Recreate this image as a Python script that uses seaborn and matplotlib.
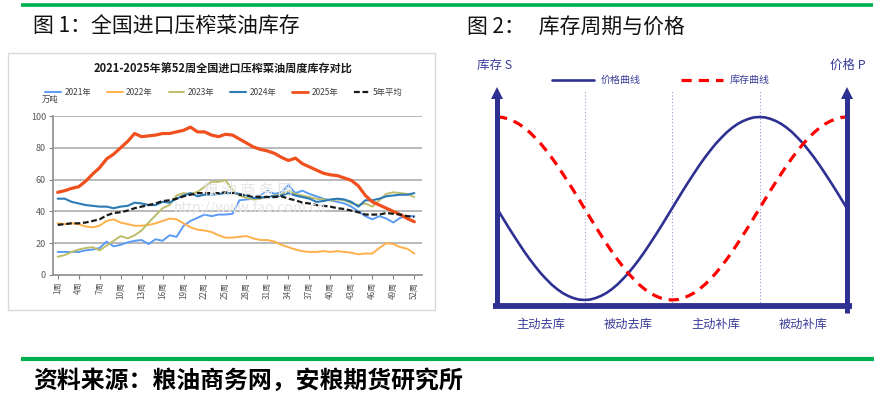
import numpy as np
import pandas as pd
import seaborn as sns
import matplotlib.pyplot as plt
from matplotlib.lines import Line2D
from matplotlib.patches import Rectangle

# ---------------- data ----------------
weeks = list(range(1, 53))
inv_2021 = [14.5, 14.5, 14.5, 14.5, 15.5, 16, 17, 21, 18, 19, 20.5, 21.5, 22, 19.5, 22.5, 21.5,
            25, 24, 31, 34, 36, 38, 37, 38, 38, 38.5, 47, 47.5, 48, 50, 53, 51, 52, 56.5, 51.5, 53,
            51, 49.5, 48, 47, 46, 45, 43, 40, 37, 35, 37, 35.5, 33, 36, 37, 37]
inv_2022 = [32.5, 32, 32.5, 32, 30.5, 30, 31, 34, 35, 33, 32, 31, 31, 31.5, 32.5, 34, 35.5, 35,
            32.5, 30, 28.5, 28, 27, 25, 23.5, 23.5, 24, 24.5, 23, 22, 22, 21, 19, 17.5, 16, 15,
            14.5, 14.5, 15, 14.5, 15, 14.5, 14, 13, 13.5, 13.5, 17, 20, 19.5, 17.5, 16.5, 13.5]
inv_2023 = [11.5, 12.5, 14.5, 16, 17, 17.5, 15.5, 18.5, 21.5, 24.5, 23, 25, 28, 33, 37.5, 42,
            44, 50, 51.5, 51, 52.3, 55.4, 58.6, 58.6, 59.6, 53.4, 50, 48.5, 47.5, 48, 49.5, 50,
            50.5, 53, 51, 50, 49, 48, 47.5, 47, 47.5, 47, 45, 44, 45, 43, 47, 51, 52, 51.5, 51, 49]
inv_2024 = [48, 48, 46, 45, 44, 43.5, 43, 43, 42, 43, 43.5, 45.5, 45, 44, 44, 46, 45.5, 48, 50,
            51.5, 49.5, 50.5, 50.5, 51, 51.5, 51.5, 51, 50, 48.5, 48.5, 49.5, 49.5, 50, 51.5, 50,
            49, 48, 46, 46.5, 47.5, 48, 47.5, 46, 43, 47, 47, 48, 49.5, 50, 50.5, 50.5, 51.5]
inv_2025 = [52, 53, 54.5, 55.5, 59, 63.5, 67.5, 73, 76, 80, 84, 89, 87, 87.5, 88, 89, 89, 90,
            91, 93, 90, 90, 88, 87, 88.5, 88, 85.5, 83, 80.5, 79, 78, 76.5, 74, 72, 73.5, 70,
            68, 66, 64, 63, 62.5, 61, 59.5, 56, 50, 46, 44, 42, 40, 38, 35.5, 33.5]
inv_avg5 = [31.5, 32, 32.5, 32.5, 33, 34, 35, 37.5, 39, 39.5, 40.5, 42, 43, 44, 45, 46.5, 47,
            48, 49.5, 50.5, 51.5, 51.5, 51.5, 51.5, 52, 51.5, 50.5, 50, 49.5, 49, 49, 49, 49.5,
            48, 47, 45.5, 45, 44, 43.5, 43, 42, 41.5, 40.5, 39.5, 38, 38, 38, 39, 38.5, 38, 37, 36.5]
series_names = ["2021年", "2022年", "2023年", "2024年", "2025年", "5年平均"]
xtick_weeks = list(range(1, 53, 3))
xtick_labels = [f"{w}周" for w in xtick_weeks]
ytick_vals = [0, 20, 40, 60, 80, 100]

# schematic (figure 2): values read along the width of the diagram
cycle_pos = [i / 64 for i in range(65)]
inventory_S = [100, 99.8, 99.0, 97.8, 96.2, 94.1, 91.6, 88.6, 85.4, 81.7, 77.8, 73.6, 69.1, 64.5,
               59.8, 54.9, 50, 45.1, 40.2, 35.5, 30.9, 26.4, 22.2, 18.3, 14.6, 11.4, 8.4, 5.9, 3.8,
               2.2, 1.0, 0.2, 0, 0.2, 1.0, 2.2, 3.8, 5.9, 8.4, 11.4, 14.6, 18.3, 22.2, 26.4, 30.9,
               35.5, 40.2, 45.1, 50, 54.9, 59.8, 64.5, 69.1, 73.6, 77.8, 81.7, 85.4, 88.6, 91.6,
               94.1, 96.2, 97.8, 99.0, 99.8, 100]
price_P = [50, 45.1, 40.2, 35.5, 30.9, 26.4, 22.2, 18.3, 14.6, 11.4, 8.4, 5.9, 3.8, 2.2, 1.0, 0.2,
           0, 0.2, 1.0, 2.2, 3.8, 5.9, 8.4, 11.4, 14.6, 18.3, 22.2, 26.4, 30.9, 35.5, 40.2, 45.1,
           50, 54.9, 59.8, 64.5, 69.1, 73.6, 77.8, 81.7, 85.4, 88.6, 91.6, 94.1, 96.2, 97.8, 99.0,
           99.8, 100, 99.8, 99.0, 97.8, 96.2, 94.1, 91.6, 88.6, 85.4, 81.7, 77.8, 73.6, 69.1, 64.5,
           59.8, 54.9, 50]
phase_labels = ["主动去库", "被动去库", "主动补库", "被动补库"]
phase_centers = [0.125, 0.375, 0.625, 0.875]
phase_bounds = [0.25, 0.5, 0.75]

# ---------------- style ----------------
sns.set_theme(style="white")
plt.rcParams["font.family"] = ["Noto Sans CJK SC", "DejaVu Sans"]

W, H = 894, 395
fig = plt.figure(figsize=(W / 100, H / 100), dpi=100)


def rect(x0, y0, x1, y1):
    return [x0 / W, 1 - y1 / H, (x1 - x0) / W, (y1 - y0) / H]


def ftext(x, y, s, **kw):
    return fig.text(x / W, 1 - y / H, s, **kw)


def fline(x0, x1, y0, y1, **kw):
    fig.add_artist(Line2D([x0 / W, x1 / W], [1 - y0 / H, 1 - y1 / H], transform=fig.transFigure, **kw))


GREEN = "#00B050"
fline(21, 873, 5, 5, color=GREEN, lw=2.6, solid_capstyle="butt")
fline(21, 874, 359, 359, color=GREEN, lw=3.0, solid_capstyle="butt")

ftext(33, 27, "图 1：全国进口压榨菜油库存", fontsize=15, fontweight="light", color="#111111",
      va="center", ha="left")
ftext(467, 27, "图 2：   库存周期与价格", fontsize=15, fontweight="light", color="#111111",
      va="center", ha="left")
ftext(33, 381, "资料来源：粮油商务网，安粮期货研究所", fontsize=17.2, fontweight="bold",
      color="#000000", va="center", ha="left")

# left panel frame
fig.patches.append(Rectangle((8 / W, 1 - 310 / H), (435 - 8) / W, (310 - 53) / H,
                             transform=fig.transFigure, fill=False, ec="#D9D9D9", lw=1.0))

# ---------------- figure 1 ----------------
colors = {"2021年": "#5B9BF5", "2022年": "#FFB04A", "2023年": "#BDBD6A",
          "2024年": "#2C7BB6", "2025年": "#F0501E", "5年平均": "#1A1A1A"}
widths = {"2021年": 1.4, "2022年": 1.4, "2023年": 1.4, "2024年": 1.5, "2025年": 2.3, "5年平均": 1.6}
dashes = {"2021年": "", "2022年": "", "2023年": "", "2024年": "", "2025年": "", "5年平均": (2.6, 1.2)}

df = pd.DataFrame({
    "week": weeks * 6,
    "value": inv_2021 + inv_2022 + inv_2023 + inv_2024 + inv_2025 + inv_avg5,
    "series": sum([[n] * 52 for n in series_names], []),
})

ax = fig.add_axes(rect(53, 116, 422, 275))
ax.set_facecolor("none")
sns.lineplot(data=df, x="week", y="value", hue="series", style="series", size="series",
             palette=colors, dashes=dashes, sizes=widths, hue_order=series_names,
             style_order=series_names, size_order=series_names, legend=False, ax=ax, zorder=3)
ax.set_xlim(0.33, 53.1)
ax.set_ylim(0, 100)
ax.set_yticks(ytick_vals)
ax.set_yticklabels([str(v) for v in ytick_vals], fontsize=6.5, color="#595959")
ax.set_xticks(xtick_weeks)
ax.set_xticklabels(xtick_labels, rotation=90, fontsize=5.8, color="#595959", va="top", ha="center")
ax.tick_params(axis="x", length=3, width=0.8, color="#808080", pad=2, direction="out", bottom=True)
ax.tick_params(axis="y", length=3, width=0.8, color="#808080", pad=2, left=True)
ax.set_xlabel("")
ax.set_ylabel("")
for v in ytick_vals[1:]:
    ax.axhline(v, color="#A6A6A6", lw=1.1, zorder=1)
for s in ["top", "right"]:
    ax.spines[s].set_visible(False)
for s in ["left", "bottom"]:
    ax.spines[s].set_color("#8C8C8C")
    ax.spines[s].set_linewidth(1.2)

ftext(223, 69, "2021-2025年第52周全国进口压榨菜油周度库存对比", fontsize=8, fontweight="bold",
      color="#1A1A1A", ha="center", va="center")
ftext(50, 99, "万吨", fontsize=6, color="#404040", ha="center", va="center")

# watermark
ftext(248, 190, "粮 油 商 务 网", fontsize=11, color="#E6E6E6", ha="center", va="center", zorder=0)
ftext(250, 208, "http://www.fao.com.cn", fontsize=10, color="#E6E6E6", ha="center", va="center", zorder=0)

handles = [Line2D([], [], color=colors[n], lw=widths[n] if n != "2025年" else 2.0,
                  linestyle=(0, dashes[n]) if dashes[n] else "-") for n in series_names]
fig.legend(handles, series_names, loc="center", bbox_to_anchor=(224 / W, 1 - 92 / H), ncol=6,
           frameon=False, fontsize=6, handlelength=1.9, handletextpad=0.4, columnspacing=1.9,
           labelcolor="#404040")

# ---------------- figure 2 ----------------
NAVY = "#2E3192"
TXT = "#3A3D9A"
ax2 = fig.add_axes(rect(497, 85, 847, 306))
ax2.set_facecolor("none")
ax2.set_xlim(0, 1)
ax2.set_ylim(-3.3, 117.5)
ax2.axis("off")

for b in phase_bounds:
    ax2.plot([b, b], [0, 0.977], transform=ax2.get_xaxis_transform(), color="#9A9ACD",
             lw=0.8, ls=(0, (1, 2)), zorder=1)

cdf = pd.DataFrame({"pos": cycle_pos, "S": inventory_S, "P": price_P})
sns.lineplot(data=cdf, x="pos", y="P", ax=ax2, color=NAVY, lw=1.9, zorder=3)
sns.lineplot(data=cdf, x="pos", y="S", ax=ax2, color="#FF0000", lw=2.3, zorder=3,
             linestyle=(0, (3.2, 2.2)))
ax2.set_xlabel("")
ax2.set_ylabel("")

ta = ax2.transAxes
ax2.plot([-0.011, 1.014], [0, 0], transform=ta, color=NAVY, lw=4.2, clip_on=False,
         solid_capstyle="butt", zorder=4)
ax2.plot([0, 0], [-0.01, 0.95], transform=ta, color=NAVY, lw=3.6, clip_on=False,
         solid_capstyle="butt", zorder=4)
ax2.plot([1, 1], [-0.032, 0.95], transform=ta, color=NAVY, lw=3.6, clip_on=False,
         solid_capstyle="butt", zorder=4)
for xx in (0, 1):
    ax2.plot([xx], [0.962], transform=ta, marker="^", ms=9, color=NAVY, clip_on=False,
             markeredgewidth=0, zorder=5)

ftext(495, 65, "库存 S", fontsize=9, color=TXT, ha="center", va="center")
ftext(848, 65, "价格 P", fontsize=9, color=TXT, ha="center", va="center")
for lab, c in zip(phase_labels, phase_centers):
    ftext(497 + c * 350, 324, lab, fontsize=8.8, color=TXT, ha="center", va="center")

lh = [Line2D([], [], color=NAVY, lw=1.9), Line2D([], [], color="#FF0000", lw=2.3, linestyle=(0, (3.2, 2.2)))]
fig.legend(lh, ["价格曲线", "库存曲线"], loc="center", bbox_to_anchor=(661 / W, 1 - 80 / H), ncol=2,
           frameon=False, fontsize=7.2, handlelength=4.2, handletextpad=0.7, columnspacing=4.0,
           labelcolor=TXT)

fig.savefig("out.png", dpi=100)
